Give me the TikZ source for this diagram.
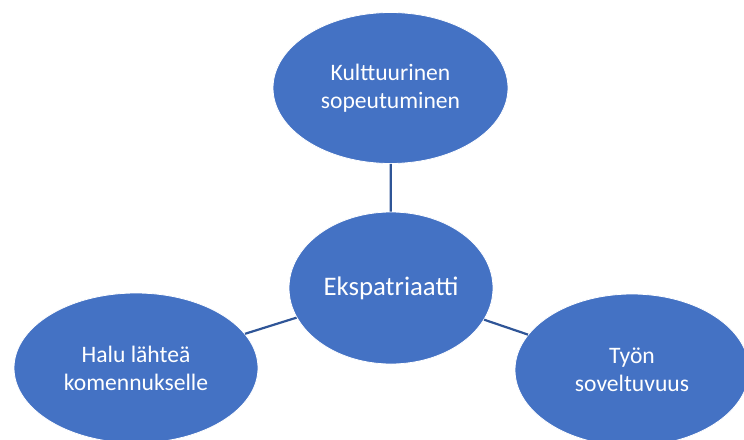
\documentclass[tikz,border=0pt]{standalone}
\usepackage{fontspec}
\setmainfont{Carlito}
\usetikzlibrary{shapes.geometric}
\definecolor{officeblue}{HTML}{4472C4}
\definecolor{linkblue}{HTML}{2F5597}
\tikzset{
  bubble/.style={ellipse, fill=officeblue, draw=white, line width=0.8pt, text=white,
    inner sep=0pt, align=center, font=\fontsize{23.6}{28}\selectfont},
  link/.style={draw=linkblue, line width=2.2pt}
}
\begin{document}
\begin{tikzpicture}[x=1pt,y=-1pt]
\useasboundingbox (0,0) rectangle (744,439);
\clip (0,0) rectangle (744,439);
\node[bubble, minimum width=235pt, minimum height=151pt] (t) at (390.5,88) {Kulttuurinen\\sopeutuminen};
\node[bubble, minimum width=204pt, minimum height=152pt, font=\fontsize{26.8}{32}\selectfont] (c) at (391,288) {Ekspatriaatti};
\node[bubble, minimum width=244pt, minimum height=150pt] (l) at (136,368) {Halu lähteä\\komennukselle};
\node[bubble, minimum width=234pt, minimum height=152pt] (r) at (632,370) {Työn\\soveltuvuus};
\draw[link] (t) -- (c);
\draw[link] (c) -- (l);
\draw[link] (c) -- (r);
\end{tikzpicture}
\end{document}
